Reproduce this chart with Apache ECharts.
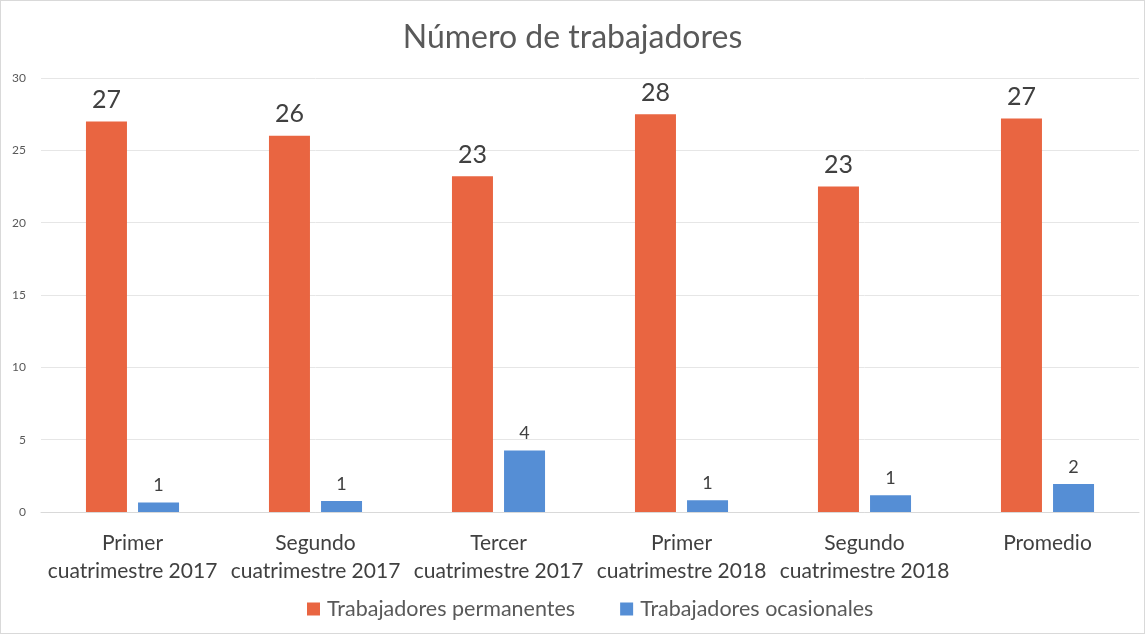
<!DOCTYPE html>
<html>
<head>
<meta charset="utf-8">
<script src="https://cdn.jsdelivr.net/npm/echarts@6/dist/echarts.min.js"></script>
<style>
  html, body { margin: 0; padding: 0; background: #fff; }
  #chart { width: 1143px; height: 632px; border: 1px solid #d9d9d9; }
</style>
</head>
<body>
<div id="chart"></div>
<script>
// datos
var categories = [
    'Primer\ncuatrimestre 2017',
    'Segundo\ncuatrimestre 2017',
    'Tercer\ncuatrimestre 2017',
    'Primer\ncuatrimestre 2018',
    'Segundo\ncuatrimestre 2018',
    'Promedio'
];
var permanentes = [27.0, 26.0, 23.2, 27.5, 22.5, 27.2];
var ocasionales = [0.65, 0.76, 4.25, 0.81, 1.15, 1.93];
var seriesNames = ['Trabajadores permanentes', 'Trabajadores ocasionales'];

var chartDom = document.getElementById('chart');
var myChart = echarts.init(chartDom);
var option;

var fontFam = 'Lato, "Open Sans", sans-serif';

option = {
    animation: false,
    textStyle: { fontFamily: fontFam },
    title: {
        text: 'Número de trabajadores',
        left: 'center',
        top: 16,
        textStyle: { fontSize: 32, fontWeight: 'normal', color: '#595959', fontFamily: fontFam }
    },
    legend: {
        data: seriesNames,
        bottom: 8,
        left: 301,
        itemWidth: 13,
        itemHeight: 13,
        itemGap: 45,
        icon: 'rect',
        textStyle: { fontSize: 21.5, color: '#595959', fontFamily: fontFam, padding: [0, 0, 0, 2] }
    },
    grid: {
        left: 40,
        right: 5,
        top: 77,
        bottom: 121
    },
    xAxis: {
        type: 'category',
        data: categories,
        axisLine: { show: true, lineStyle: { color: '#d9d9d9' } },
        axisTick: { show: false },
        axisLabel: {
            fontSize: 21,
            color: '#404040',
            lineHeight: 28,
            margin: 17,
            interval: 0,
            fontFamily: fontFam
        }
    },
    yAxis: {
        type: 'value',
        min: 0,
        max: 30,
        interval: 5,
        axisLine: { show: false },
        axisTick: { show: false },
        axisLabel: { fontSize: 12, color: '#595959', margin: 15, fontFamily: fontFam },
        splitLine: { lineStyle: { color: '#e6e6e6' } }
    },
    series: [
        {
            name: seriesNames[0],
            type: 'bar',
            data: permanentes,
            barWidth: 41,
            barGap: '27%',
            itemStyle: { color: '#e96541' },
            label: {
                show: true,
                position: 'top',
                distance: 9,
                fontSize: 25,
                color: '#404040',
                fontFamily: fontFam,
                formatter: function (p) { return Math.round(p.value); }
            }
        },
        {
            name: seriesNames[1],
            type: 'bar',
            data: ocasionales,
            barWidth: 41,
            itemStyle: { color: '#558ed5' },
            label: {
                show: true,
                position: 'top',
                distance: 8,
                fontSize: 18,
                color: '#404040',
                fontFamily: fontFam,
                formatter: function (p) { return Math.round(p.value); }
            }
        }
    ]
};

option && myChart.setOption(option);
</script>
</body>
</html>
